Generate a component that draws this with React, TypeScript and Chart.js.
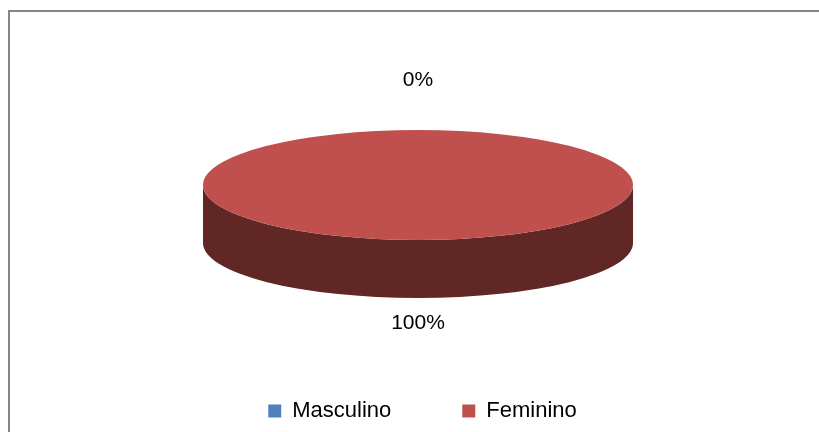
import React, { useEffect, useRef } from 'react';
import { Chart, registerables } from 'chart.js';

Chart.register(...registerables);

const categories = ['Masculino', 'Feminino'];
const values = [0, 100];
const sliceColors = ['#4F81BD', '#C0504D'];
const sideColors = ['#2A4566', '#612725'];

const CX = 418;
const CY = 185;
const RX = 215;
const RY = 55;
const DEPTH = 58;
const FONT = '"Liberation Sans", Arial, sans-serif';

export default function App() {
  const ref = useRef<HTMLCanvasElement>(null);

  useEffect(() => {
    const canvas = ref.current;
    if (!canvas) return;
    const sy = RY / RX;

    const tilt = {
      id: 'tilt',
      beforeDatasetsDraw(chart: any) {
        const ctx = chart.ctx;
        const meta = chart.getDatasetMeta(0);
        meta.data.forEach((el: any, i: number) => {
          const s = el.startAngle;
          const e = el.endAngle;
          const r = el.outerRadius;
          const a1 = Math.max(s, 0);
          const a2 = Math.min(e, Math.PI);
          if (a2 <= a1) return;
          ctx.save();
          ctx.fillStyle = sideColors[i];
          ctx.beginPath();
          ctx.ellipse(CX, CY, r, r * sy, 0, a1, a2, false);
          ctx.ellipse(CX, CY + DEPTH, r, r * sy, 0, a2, a1, true);
          ctx.closePath();
          ctx.fill();
          ctx.restore();
        });
        const first: any = meta.data[0];
        ctx.save();
        ctx.translate(CX, CY);
        ctx.scale(1, sy);
        ctx.translate(-first.x, -first.y);
      },
      afterDatasetsDraw(chart: any) {
        const ctx = chart.ctx;
        ctx.restore();
        const meta = chart.getDatasetMeta(0);
        const total = values.reduce((a, b) => a + b, 0);
        ctx.save();
        ctx.font = '21px ' + FONT;
        ctx.fillStyle = '#000';
        ctx.textAlign = 'center';
        ctx.textBaseline = 'middle';
        meta.data.forEach((el: any, i: number) => {
          const mid = (el.startAngle + el.endAngle) / 2;
          const c = Math.cos(mid);
          const sn = Math.sin(mid);
          const r = el.outerRadius;
          const off = sn < 0 ? 50 : DEPTH + 25;
          const x = CX + c * (r + 40);
          const y = CY + sn * (r * sy + off);
          const pct = Math.round((values[i] / total) * 100) + '%';
          ctx.fillText(pct, x, y);
        });
        ctx.restore();
      },
    };

    const chart = new Chart(canvas, {
      type: 'pie',
      data: {
        labels: categories,
        datasets: [
          {
            data: values,
            backgroundColor: sliceColors,
            borderWidth: 0,
            radius: RX,
            clip: false as any,
          } as any,
        ],
      },
      options: {
        animation: false,
        responsive: false,
        layout: { padding: { left: 26, right: 0, top: 0, bottom: 0 } },
        plugins: {
          tooltip: { enabled: false },
          legend: {
            position: 'bottom',
            labels: {
              boxWidth: 13,
              boxHeight: 13,
              padding: 71,
              color: '#000',
              font: { family: FONT, size: 22 },
            },
          },
        },
      },
      plugins: [tilt],
    });
    return () => chart.destroy();
  }, []);

  return (
    <div style={{ position: 'fixed', left: 0, top: 0, width: 819, height: 432, overflow: 'hidden', background: '#fff' }}>
      <div
        style={{
          position: 'absolute',
          left: 8,
          top: 10,
          width: 900,
          height: 500,
          borderTop: '2px solid #868686',
          borderLeft: '2px solid #868686',
        }}
      />
      <canvas ref={ref} width={819} height={432} style={{ position: 'absolute', left: 0, top: 0 }} />
    </div>
  );
}
